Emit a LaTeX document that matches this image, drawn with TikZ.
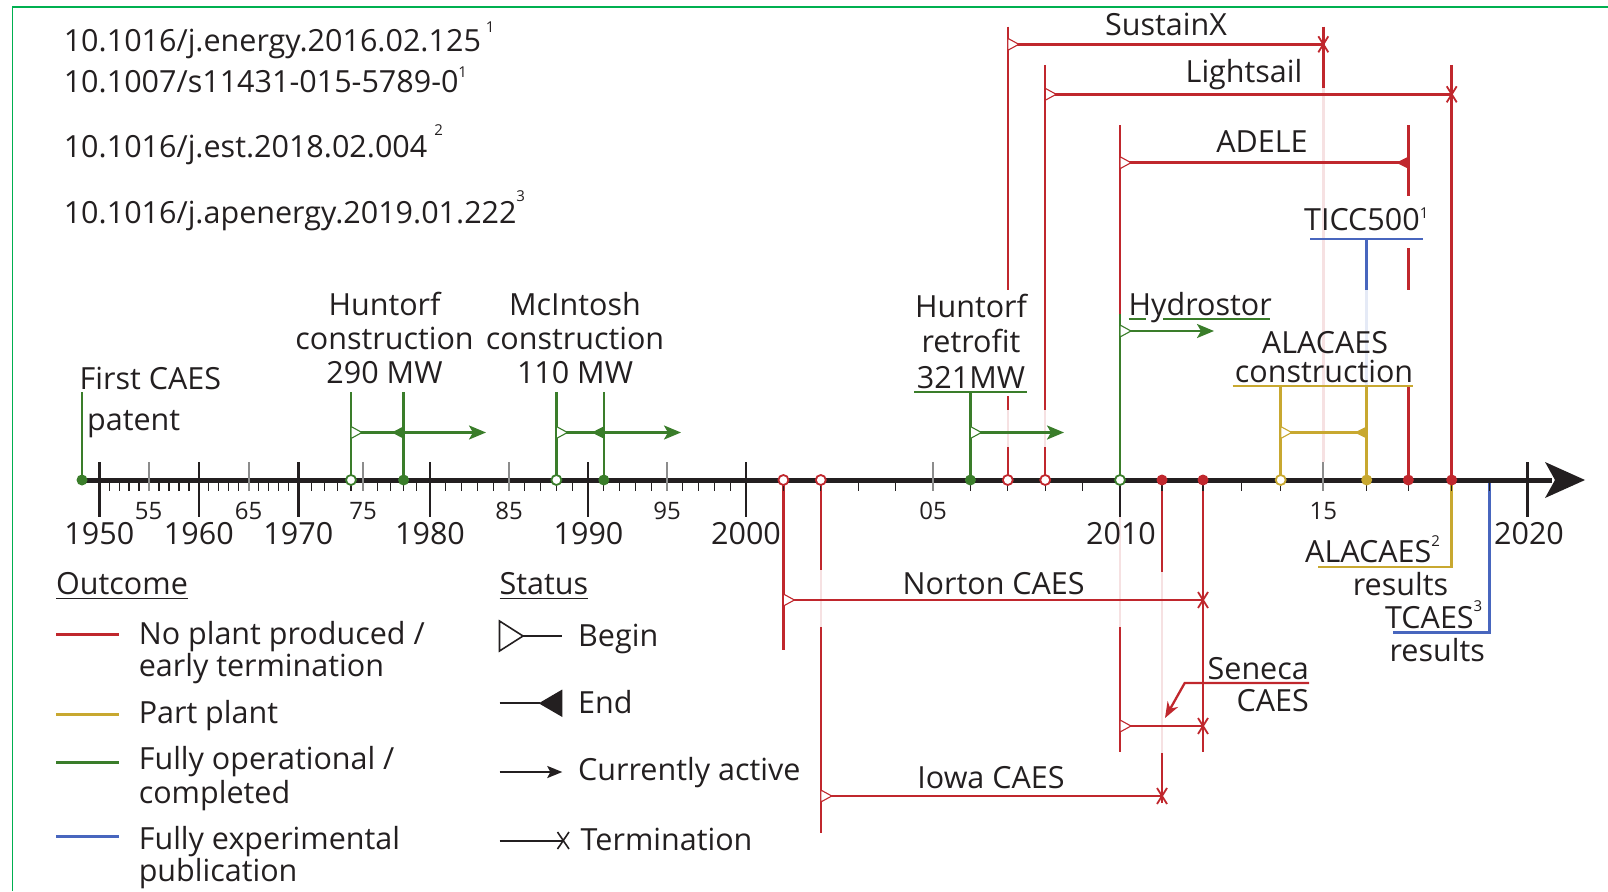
\documentclass[tikz,border=0pt]{standalone}
\usepackage{fontspec}
\setmainfont{Open Sans}
\usetikzlibrary{arrows.meta}
\definecolor{cr}{RGB}{192,39,45}
\definecolor{cg}{RGB}{58,125,42}
\definecolor{cy}{RGB}{200,168,48}
\definecolor{cb}{RGB}{72,102,190}
\definecolor{cframe}{RGB}{0,176,80}
\definecolor{txt}{RGB}{35,31,32}
\colorlet{pr}{cr!14}
\colorlet{pb}{cb!14}
\newcommand\supr[2][18pt]{\raisebox{#1}{\fontsize{15}{15}\selectfont #2}}
\begin{document}
\begin{tikzpicture}[x=1pt,y=-1pt,
  t/.style={font=\fontsize{30.5}{36}\selectfont, text=txt, inner sep=0pt, text height=21.8pt, text depth=0pt},
  ts/.style={font=\fontsize{24}{28}\selectfont, text=txt, inner sep=0pt, text height=17pt, text depth=0pt},
  ev/.style={line width=2.5pt},
  ul/.style={line width=2.3pt},
  act/.style={line width=2.5pt, -{Stealth[length=17pt,width=14pt,inset=4pt]}},
  bmark/.pic={\draw[line width=1.1pt, fill=white] (0,-6) -- (11,0) -- (0,6) -- cycle;},
  emark/.pic={\fill (0.8,-6.5) -- (-12,0) -- (0.8,6.5) -- cycle;},
  tmark/.pic={\draw[line width=1.8pt] (-5,-8) -- (5,8) (-5,8) -- (5,-8);},
  odot/.pic={\draw[line width=1.8pt, fill=white] (0,0) circle (5pt);},
  fdot/.pic={\fill (0,0) circle (5.5pt);},
]
\useasboundingbox (0,0) rectangle (1608,891);
% frame
\draw[cframe, line width=1.6pt] (12.5,891) -- (12.5,7) -- (1608,7);

% references
\node[t, anchor=west] (doi1) at (63.6,41) {10.1016/j.energy.2016.02.125\hspace{5pt}\supr[19pt]{1}};
\node[t, anchor=west] (doi2) at (63.6,82) {10.1007/s11431-015-5789-0\supr[15pt]{1}};
\node[t, anchor=west] (doi3) at (63.6,146.6) {10.1016/j.est.2018.02.004\hspace{7pt}\supr[22pt]{2}};
\node[t, anchor=west] (doi4) at (63.6,212.3) {10.1016/j.apenergy.2019.01.222\supr[22pt]{3}};

% ---------- pale crossings ----------
\draw[pr,ev] (1007.8,410) -- (1007.8,447);
\draw[pr,ev] (1045.2,410) -- (1045.2,447);
\draw[pr,ev] (1323.3,88) -- (1323.3,462);
\draw[pb,ev] (1366.7,290) -- (1366.7,386);
\draw[pr,ev] (820.8,570) -- (820.8,627);
\draw[pr,ev] (1120,517) -- (1120,627);
\draw[pr,ev] (1162,572) -- (1162,753);

% ---------- red projects above axis ----------
\draw[cr,ev] (1007.8,26.7) -- (1007.8,290) (1007.8,396) -- (1007.8,410) (1007.8,447) -- (1007.8,480);
\draw[cr,ev] (1045.2,65) -- (1045.2,410) (1045.2,447) -- (1045.2,480);
\draw[cr,ev] (1120,125) -- (1120,314);
\draw[cr,ev] (1323.3,26.7) -- (1323.3,88);
\draw[cr,ev] (1408.3,125) -- (1408.3,196) (1408.3,248) -- (1408.3,290) (1408.3,385) -- (1408.3,480);
\draw[cr,ev] (1451.7,65) -- (1451.7,480);

\draw[cr,ev] (1007.8,44.3) -- (1323.3,44.3);
\pic[cr] at (1007.8,44.3) {bmark}; \pic[cr] at (1323.3,44.3) {tmark};
\draw[cr,ev] (1045.2,94.3) -- (1451.7,94.3);
\pic[cr] at (1045.2,94.3) {bmark}; \pic[cr] at (1451.7,94.3) {tmark};
\draw[cr,ev] (1120,162.7) -- (1408.3,162.7);
\pic[cr] at (1120,162.7) {bmark}; \pic[cr] at (1408.3,162.7) {emark};

\node[t] (sustainx) at (1166,24.5) {SustainX};
\node[t] (lightsail) at (1244,71.5) {Lightsail};
\node[t] (adele) at (1262,141.5) {ADELE};

% TICC500
\node[t, anchor=west] (ticc) at (1304,220) {TICC500\supr[12pt]{1}};
\draw[cb,ul] (1310,239.3) -- (1423,239.3);
\draw[cb,ev] (1366.7,239.3) -- (1366.7,290);

% ---------- green ----------
\draw[cg,ev] (82,392) -- (82,480);
\node[t, anchor=west] (first) at (79.5,379) {First CAES};
\node[t, anchor=west] (patent) at (87,420) {patent};

\draw[cg,ev] (351,392) -- (351,480) (403.6,392) -- (403.6,480);
\draw[cg,ev] (351,432.5) -- (403.6,432.5);
\draw[cg,act] (403.6,432.5) -- (486,432.5);
\pic[cg] at (351,432.5) {bmark}; \pic[cg] at (403.6,432.5) {emark};
\node[t] (hc1) at (384.5,305) {Huntorf};
\node[t] (hc2) at (384.5,339) {construction};
\node[t] (hc3) at (384.5,373) {290 MW};

\draw[cg,ev] (556.4,392) -- (556.4,480) (603.8,392) -- (603.8,480);
\draw[cg,ev] (556.4,432.5) -- (603.8,432.5);
\draw[cg,act] (603.8,432.5) -- (681,432.5);
\pic[cg] at (556.4,432.5) {bmark}; \pic[cg] at (603.8,432.5) {emark};
\node[t] (mc1) at (575,305) {McIntosh};
\node[t] (mc2) at (575,339) {construction};
\node[t] (mc3) at (575,373) {110 MW};

\draw[cg,ev] (970.4,391.7) -- (970.4,480);
\draw[cg,act] (970.4,432.5) -- (1064,432.5);
\pic[cg] at (970.4,432.5) {bmark};
\node[t] (hr1) at (971,306.5) {Huntorf};
\node[t] (hr2) at (971,342) {retrofit};
\node[t] (hr3) at (971,377.5) {321MW};
\draw[cg,ul] (914,391.7) -- (1027,391.7);

\draw[cg,ev] (1120,314) -- (1120,480);
\draw[cg,act] (1120,331) -- (1214,331);
\pic[cg] at (1120,331) {bmark};
\node[t, anchor=west] (hydro) at (1128.5,305) {Hydrostor};
\draw[cg,ul] (1128.5,319.3) -- (1146,319.3) (1163,319.3) -- (1270,319.3);

% ---------- yellow ----------
\node[t] (al1) at (1325,342.5) {ALACAES};
\node[t] (al2) at (1324,371.5) {construction};
\draw[cy,ul] (1232.7,386) -- (1413.4,386);
\draw[cy,ev] (1280.7,386) -- (1280.7,480) (1366.7,386) -- (1366.7,480);
\draw[cy,ev] (1280.7,432.5) -- (1366.7,432.5);
\pic[cy] at (1280.7,432.5) {bmark}; \pic[cy] at (1366.7,432.5) {emark};

\draw[cy,ev] (1451.7,480) -- (1451.7,567) -- (1318,567);
\node[t, anchor=west] (alr1) at (1305,551.7) {ALACAES\supr[16pt]{2}};
\node[t, anchor=east] (alr2) at (1448.3,584.5) {results};

% ---------- blue TCAES ----------
\draw[cb,ev] (1489.5,480) -- (1489.5,632.7) -- (1393,632.7);
\node[t, anchor=west] (tc1) at (1385,618) {TCAES\supr[17pt]{3}};
\node[t, anchor=east] (tc2) at (1485,651) {results};

% ---------- red below axis ----------
\draw[cr,ev] (783.4,480) -- (783.4,650);
\draw[cr,ev] (820.8,480) -- (820.8,570) (820.8,627) -- (820.8,833);
\draw[cr,ev] (1120,627) -- (1120,752);
\draw[cr,ev] (1162,480) -- (1162,572) (1162,753) -- (1162,803);
\draw[cr,ev] (1203,480) -- (1203,752);

\draw[cr,ev] (783.4,600) -- (1203,600);
\pic[cr] at (783.4,600) {bmark}; \pic[cr] at (1203,600) {tmark};
\node[t] (norton) at (993.7,584) {Norton CAES};

\draw[cr,ev] (820.8,796) -- (1162,796);
\pic[cr] at (820.8,796) {bmark}; \pic[cr] at (1162,796) {tmark};
\node[t] (iowa) at (991,777.5) {Iowa CAES};

\draw[cr,ev] (1120,726) -- (1203,726);
\pic[cr] at (1120,726) {bmark}; \pic[cr] at (1203,726) {tmark};
\node[t, anchor=east] (sen1) at (1309,668.3) {Seneca};
\node[t, anchor=east] (sen2) at (1309,701) {CAES};
\draw[cr,ul,-{Stealth[length=16pt,width=12pt]}] (1309,683) -- (1184.7,683) -- (1165,718);

% ---------- axis ----------
\draw[txt, line width=5pt] (82,480) -- (1552,480);
\fill[txt] (1585,480) -- (1545,462) -- (1555,480) -- (1545,498) -- cycle;
\foreach \x in {109.2,119.2,129.1,139.1,159,168.9,178.9,188.9,208.7,218.7,228.6,238.6,258.5,268.4,278.4,288.3,
  311.5,324.6,337.8,351,377.3,390.5,403.6,416.8,445.8,461.6,477.4,493.2,524.8,540.6,556.4,572.2,
  603.8,619.6,635.4,651.2,682.8,698.6,714.4,730.2,783.4,820.8,858.2,895.6,970.4,1007.8,1045.2,1082.6,
  1162,1203,1241.7,1280.7,1366.7,1408.3,1451.7,1489.5}
  \draw[txt, line width=1.3pt] (\x,480) -- (\x,491);
\foreach \x in {148.5,248.5,363,509,667,933,1323.3}
  \draw[black!45, line width=2pt] (\x,462) -- (\x,491);
\foreach \x in {99.3,198.8,298.3,430,588,746,1527.3}
  \draw[txt, line width=2.5pt] (\x,462) -- (\x,517);
\draw[txt, line width=2.5pt] (1120,480) -- (1120,517);

\foreach \x/\l in {148.5/55,248.5/65,363/75,509/85,667/95,933/05,1323.3/15}
  \node[ts] at (\x,511) {\l};
\foreach \x/\l in {99.3/1950,198.8/1960,298.3/1970,430/1980,588.5/1990,746/2000,1121/2010,1529/2020}
  \node[t] at (\x,534) {\l};

% markers on axis
\pic[cg] at (82,480) {fdot};
\pic[cg] at (351,480) {odot};
\pic[cg] at (403.6,480) {fdot};
\pic[cg] at (556.4,480) {odot};
\pic[cg] at (603.8,480) {fdot};
\pic[cg] at (970.4,480) {fdot};
\pic[cg] at (1120,480) {odot};
\pic[cr] at (783.4,480) {odot};
\pic[cr] at (820.8,480) {odot};
\pic[cr] at (1007.8,480) {odot};
\pic[cr] at (1045.2,480) {odot};
\pic[cr] at (1162,480) {fdot};
\pic[cr] at (1203,480) {fdot};
\pic[cr] at (1408.3,480) {fdot};
\pic[cr] at (1451.7,480) {fdot};
\pic[cy] at (1280.7,480) {odot};
\pic[cy] at (1366.7,480) {fdot};

% ---------- legend ----------
\node[t, anchor=west] (outcome) at (56,583.3) {Outcome};
\draw[txt, line width=1.5pt] ([yshift=-4.3pt]outcome.south west) -- ([yshift=-4.3pt]outcome.south east);
\draw[cr, line width=3pt] (56,634.3) -- (119,634.3);
\draw[cy, line width=3pt] (56,714) -- (119,714);
\draw[cg, line width=3pt] (56,762.7) -- (119,762.7);
\draw[cb, line width=3pt] (56,836.7) -- (119,836.7);
\node[t, anchor=west] (o1a) at (138.6,633.8) {No plant produced /};
\node[t, anchor=west] (o1b) at (138.6,666) {early termination};
\node[t, anchor=west] (o2) at (138.6,713) {Part plant};
\node[t, anchor=west] (o3a) at (138.6,759) {Fully operational /};
\node[t, anchor=west] (o3b) at (138.6,792.5) {completed};
\node[t, anchor=west] (o4a) at (138.6,838.3) {Fully experimental};
\node[t, anchor=west] (o4b) at (138.6,870.5) {publication};

\node[t, anchor=west] (status) at (499.5,583.3) {Status};
\draw[txt, line width=1.5pt] ([yshift=-4.3pt]status.south west) -- ([yshift=-4.3pt]status.south east);
\draw[txt, line width=1.6pt, fill=white] (499.5,621) -- (523,636) -- (499.5,651) -- cycle;
\draw[txt, line width=2pt] (523,636) -- (562,636);
\node[t, anchor=west] (s1) at (578,636) {Begin};
\draw[txt, line width=2pt] (499.5,703.3) -- (540,703.3);
\fill[txt] (538.7,703.3) -- (562.3,689.5) -- (562.3,717) -- cycle;
\node[t, anchor=west] (s2) at (578,702.5) {End};
\draw[txt, line width=2pt, -{Stealth[length=15pt,width=12pt,inset=3pt]}] (499.5,772) -- (562.3,772);
\node[t, anchor=west] (s3) at (578,770) {Currently active};
\draw[txt, line width=2pt] (499.5,840.7) -- (562,840.7);
\draw[txt, line width=1.6pt] (557.5,832) -- (569,849) (557.5,849) -- (569,832);
\node[t, anchor=west] (s4) at (580.5,840) {Termination};
\end{tikzpicture}
\end{document}
